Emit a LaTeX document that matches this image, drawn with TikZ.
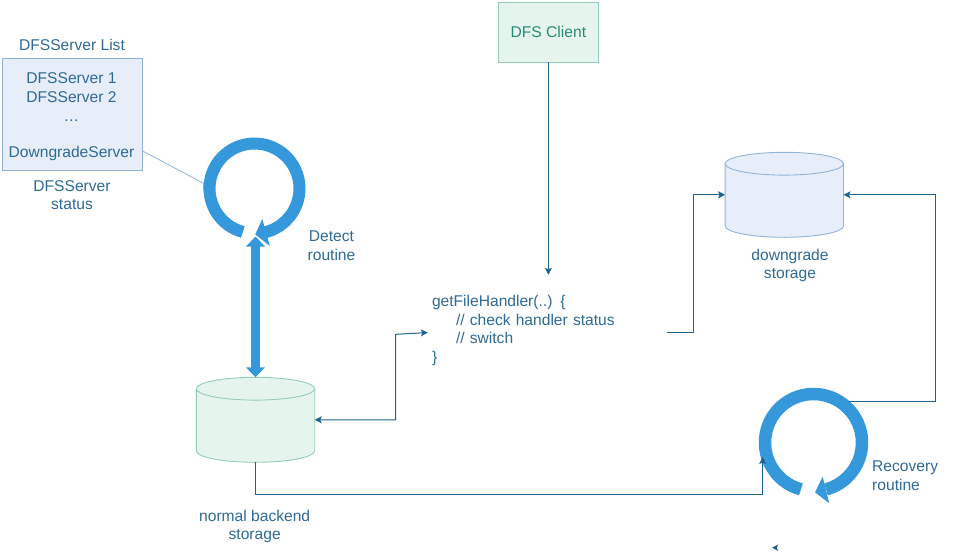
\documentclass[tikz,border=0pt]{standalone}
\usepackage{fontspec}
\setmainfont{Liberation Sans}
\usetikzlibrary{arrows.meta}
\definecolor{txtblue}{HTML}{2E6A96}
\definecolor{linkblue}{HTML}{1F6390}
\definecolor{ringblue}{HTML}{3498DB}
\definecolor{boxblue}{HTML}{E8EEF9}
\definecolor{boxline}{HTML}{8FB4D8}
\definecolor{greenfill}{HTML}{E6F4EE}
\definecolor{greenline}{HTML}{93CDB8}
\definecolor{dfsgreen}{HTML}{2A8A78}
\newcommand{\drumshape}[4]{%
  \node[minimum width=118.4pt,minimum height=85pt,inner sep=0pt,outer sep=0pt] (#1) at (#2) {};
  \draw[draw=#3,fill=#4,line width=0.9pt] ([yshift=-11.4pt]#1.north west)
    arc[start angle=180,end angle=360,x radius=59.2,y radius=11.4]
    -- ([yshift=11.4pt]#1.south east)
    arc[start angle=0,end angle=180,x radius=59.2,y radius=11.4]
    -- cycle;
  \draw[draw=#3,line width=0.9pt] ([yshift=-11.4pt]#1.north west)
    arc[start angle=180,end angle=0,x radius=59.2,y radius=11.4];
}
\tikzset{
  lab/.style={font=\fontsize{15.6}{18.6}\selectfont,text=txtblue,align=center,inner sep=0pt},
  linkhead/.style={-{Stealth[length=7pt,width=7pt,inset=1.5pt]}},
  twohead/.style={{Stealth[length=7pt,width=7pt,inset=1.5pt]}-{Stealth[length=7pt,width=7pt,inset=1.5pt]}},
  link/.style={draw=linkblue,line width=1pt},
  ring/.style={draw=ringblue,line width=12pt,line cap=butt},
  head/.style={fill=ringblue,draw=none}
}
\begin{document}
\begin{tikzpicture}[x=1pt,y=-1pt]
\useasboundingbox (0,0) rectangle (964,557);
% list box
\node[lab] (listtitle) at (72,44.5) {DFSServer List};
\node[draw=boxline,fill=boxblue,line width=0.9pt,minimum width=140pt,minimum height=111.7pt,inner sep=0pt,outer sep=0pt,anchor=north west] (listbox) at (2.7,58.3) {};
\node[lab] (l1) at (71.5,78.3) {DFSServer 1};
\node[lab] (l2) at (71.5,96.7) {DFSServer 2};
\node[lab] (l3) at (71.5,121) {…};
\node[lab] (l4) at (71.5,153.5) {DowngradeServer};
\node[lab] (status) at (72,195) {DFSServer\\status};
% client
\node[draw=greenline,fill=greenfill,line width=0.9pt,minimum width=100pt,minimum height=59.6pt,inner sep=0pt,outer sep=0pt,font=\fontsize{15.6}{18}\selectfont,text=dfsgreen] (client) at (548.4,32.5) {\raisebox{1pt}{DFS Client}};
% storages
\drumshape{normal}{255.5,419.8}{greenline}{greenfill}
\drumshape{down}{784.3,194.8}{boxline}{boxblue}
\node[lab] (normallab) at (254.7,526.5) {normal backend\\storage};
\node[lab] (downlab) at (790,265.3) {downgrade\\storage};
% code
\node[lab,align=left,text width=231pt,inner xsep=4pt,minimum height=111pt] (code) at (547.5,330.5) {getFileHandler(..) \{\\\hspace*{24pt}// check handler status\\\hspace*{24pt}// switch\\\}};
% routine labels
\node[lab] (detectlab) at (331.5,246) {Detect\\routine};
\node[lab,align=left,anchor=west] (recoverylab) at (872,476) {Recovery\\routine};
% double arrow
\coordinate (detecttip) at (255.5,236.5);
\draw[draw=ringblue,line width=9.5pt,{Triangle[length=10pt,width=18.5pt]}-{Triangle[length=10pt,width=18.5pt]}] (detecttip) -- (normal.north);
% detect ring
\coordinate (dc) at (254.5,188.5);
\draw[draw=boxline,line width=0.8pt] (listbox.east |- 0,151) -- (204,183.5);
\draw[draw=boxline,line width=0.8pt] (dc) ++(178:51) arc[start angle=178,end angle=187,radius=51];
\draw[ring] (dc) ++(105:45) arc[start angle=105,end angle=436,radius=45];
\fill[head] (255,235) -- (262.3,219) -- (270,246.7) -- cycle;
\draw[white,line width=0.9pt] (254,234.2) -- (271,247.6);
% recovery ring
\coordinate (rc) at (813.5,442.5);
\draw[ring,line width=12.5pt] (rc) ++(105:48.5) arc[start angle=105,end angle=435,radius=48.5];
\fill[head] (815,492.3) -- (822.7,476.7) -- (829.3,503.3) -- cycle;
\coordinate (ringout) at (849.3,401.3);
\coordinate (ringin) at (762.7,457);
% connectors
\draw[link,linkhead] (client.south) -- (client.south |- code.north);
\draw[link,twohead] ([yshift=-2pt]code.west) -- (395.7,334.3) -- (395.7,419.8) -- (normal.east);
\draw[link,linkhead] ([yshift=-1.5pt]code.east) -- (693.5,332) -- (693.5,194.8) -- (down.west);
\draw[link,linkhead] (normal.south) -- (255.5,494.3) -| (ringin);
\draw[link,linkhead] (ringout) -| (935.3,194.8) -- (down.east);
% stray arrowhead
\fill[linkblue] (772.2,547.7) -- (778.3,544.3) -- (776.6,547.7) -- (778.3,551) -- cycle;
\end{tikzpicture}
\end{document}
